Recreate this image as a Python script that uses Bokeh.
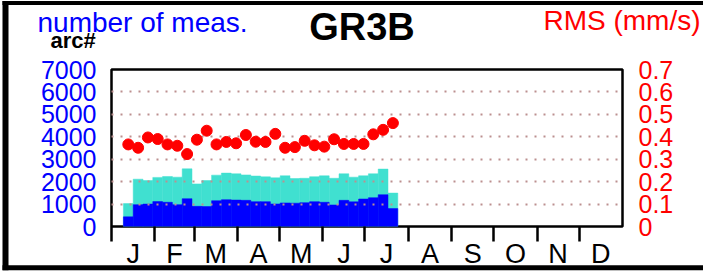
from bokeh.plotting import figure
from bokeh.models import Range1d, LinearAxis, FixedTicker, ColumnDataSource
from bokeh.core.properties import value
from bokeh.embed import file_html
from bokeh.resources import INLINE

# ---------------- data ----------------
months = ["J", "F", "M", "A", "M", "J", "J", "A", "S", "O", "N", "D"]
month_start = [0, 31, 59, 90, 120, 151, 181, 212, 243, 273, 304, 334, 365]

week_day = [12, 19, 26, 33, 40, 47, 54, 61, 68, 75, 82, 89, 96, 103,
            110, 117, 124, 131, 138, 145, 152, 159, 166, 173, 180, 187, 194, 201]
n_total = [1020, 2110, 2050, 2190, 2230, 2200, 2570, 1900, 2050, 2290, 2380, 2350, 2300, 2250,
           2215, 2170, 2260, 2140, 2150, 2220, 2260, 2150, 2350, 2200, 2260, 2350, 2560, 1490]
n_arc = [430, 975, 1000, 1110, 1080, 975, 1240, 900, 890, 1150, 1196, 1180, 1167, 1108,
         1108, 1005, 1050, 1040, 1063, 1108, 1080, 960, 1167, 1100, 1226, 1285, 1418, 798]
rms = [0.366, 0.351, 0.397, 0.390, 0.366, 0.360, 0.323, 0.387, 0.427, 0.366, 0.377, 0.371, 0.408, 0.378,
       0.377, 0.413, 0.351, 0.354, 0.382, 0.362, 0.356, 0.389, 0.368, 0.368, 0.368, 0.411, 0.431, 0.461]

left_ticks = [0, 1000, 2000, 3000, 4000, 5000, 6000, 7000]
left_labels = ["0", "1000", "2000", "3000", "4000", "5000", "6000", "7000"]
right_ticks = [0, 0.1, 0.2, 0.3, 0.4, 0.5, 0.6, 0.7]
right_labels = ["0", "0.1", "0.2", "0.3", "0.4", "0.5", "0.6", "0.7"]
grid_ticks = [1000, 2000, 3000, 4000, 5000, 6000]

title_text = "GR3B"
left_title = "number of meas."
left_unit = "arc#"
right_title = "RMS (mm/s)"

FONT = "Liberation Sans"

# ---------------- layout constants (pixels) ----------------
W, H = 703, 271
FL, FR, FT, FB = 111, 622, 69, 227          # frame edges
X0, X1, Y0, Y1 = 0, 365, 0, 7000             # frame data extent


def dx(px):   # pixel column -> data x
    return X0 + (px - FL) * (X1 - X0) / (FR - FL)


def dy(py):   # pixel row -> data y
    return Y0 + (FB - py) * (Y1 - Y0) / (FB - FT)


src = ColumnDataSource(dict(day=week_day, total=n_total, arc=n_arc, rms=rms))

p = figure(width=W, height=H, output_backend="svg", toolbar_location=None,
           x_range=Range1d(X0, X1), y_range=Range1d(Y0, Y1),
           min_border_left=FL, min_border_right=W - FR, min_border_top=FT, min_border_bottom=H - FB)
p.extra_y_ranges = {"rms": Range1d(0, 0.7)}
p.background_fill_color = "white"
p.border_fill_color = "white"
p.outline_line_color = "black"
p.outline_line_width = 2.5

p.vbar(x="day", top="total", bottom=0, width=7, source=src,
       fill_color="#40e0d0", line_color="#40e0d0", line_width=0.5)
p.vbar(x="day", top="arc", bottom=0, width=7, source=src,
       fill_color="#0000ff", line_color="#0000ff", line_width=0.5)

r = p.scatter(x="day", y="rms", y_range_name="rms", source=src, size=11,
              fill_color="#ff0000", line_color="#ff0000")
r.level = "annotation"

p.xgrid.visible = False
p.ygrid.ticker = FixedTicker(ticks=grid_ticks)
p.ygrid.grid_line_color = "#bc8f8f"
p.ygrid.grid_line_width = 2
p.ygrid.grid_line_dash = "2 7"
p.ygrid.level = "guide"

ya = p.yaxis[0]
ya.ticker = FixedTicker(ticks=left_ticks)
ya.major_label_overrides = {t: s for t, s in zip(left_ticks, left_labels)}
ya.major_label_text_color = "#0000ff"
ya.major_label_text_font = FONT
ya.major_label_text_font_size = "25px"
ya.major_tick_out = 0
ya.major_tick_in = 0
ya.minor_tick_out = 0
ya.minor_tick_in = 0
ya.axis_line_color = None
ya.major_label_standoff = 15

ra = LinearAxis(y_range_name="rms", ticker=FixedTicker(ticks=right_ticks))
ra.major_label_overrides = {t: s for t, s in zip(right_ticks, right_labels)}
ra.major_label_text_color = "#ff0000"
ra.major_label_text_font = FONT
ra.major_label_text_font_size = "25px"
ra.major_tick_out = 0
ra.major_tick_in = 0
ra.minor_tick_out = 0
ra.minor_tick_in = 0
ra.axis_line_color = None
ra.major_label_standoff = 16
p.add_layout(ra, "right")

month_mid = [(a + b) / 2 for a, b in zip(month_start[:-1], month_start[1:])]
xa = p.xaxis[0]
xa.ticker = FixedTicker(ticks=month_mid, minor_ticks=month_start[:-1])
xa.major_label_overrides = {t: s for t, s in zip(month_mid, months)}
xa.major_label_text_color = "black"
xa.major_label_text_font = FONT
xa.major_label_text_font_size = "27px"
xa.major_tick_out = 0
xa.major_tick_in = 0
xa.minor_tick_out = 15
xa.minor_tick_in = 0
xa.minor_tick_line_width = 2.5
xa.minor_tick_line_color = "black"
xa.axis_line_color = None
xa.major_label_standoff = -3

# ---------------- header texts (overlay level: drawn outside the frame) ----------------
def add_text(px, py, text, color, size, bold=False, align="left"):
    t = p.text(x=[dx(px)], y=[dy(py)], text=[text], text_color=color,
               text_font=value(FONT), text_font_size=size,
               text_font_style="bold" if bold else "normal",
               text_align=align, text_baseline="alphabetic")
    t.level = "overlay"


add_text(37, 22, left_title, "#0000ff", "28px")
add_text(700, 20, right_title, "#ff0000", "28px", align="right")
add_text(361.5, 26, title_text, "black", "38px", bold=True, align="center")
add_text(50, 40, left_unit, "black", "22px", bold=True)

# picture border: left, top and bottom strips
b = p.quad(left=[dx(2), dx(2), dx(2)], right=[dx(8), dx(W), dx(W)],
           top=[dy(0), dy(0), dy(266)], bottom=[dy(H), dy(4), dy(H)],
           fill_color="black", line_color=None)
b.level = "overlay"

open("out.html", "w").write(file_html(p, INLINE))
